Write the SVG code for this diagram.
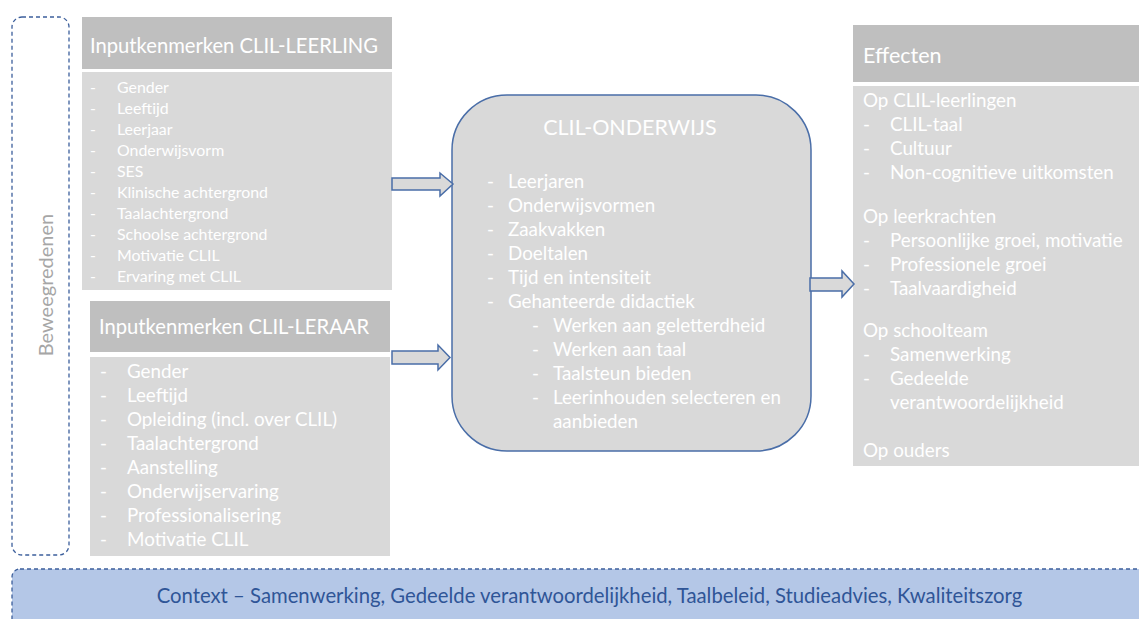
<svg xmlns="http://www.w3.org/2000/svg" width="1139" height="619" viewBox="0 0 1139 619">
  <defs>
    <style>
      text { font-family: Lato, "Open Sans", "Liberation Sans", sans-serif; fill: #ffffff; }
      .hdr { fill: #bfbfbf; }
      .body { fill: #d9d9d9; }
      .h22 { font-size: 20.2px; }
      .h24 { font-size: 21.5px; }
      .t17 { font-size: 15.9px; }
      .t20 { font-size: 18.8px; }
      .dash { fill: none; stroke: #3c5f9c; stroke-width: 1.3; stroke-dasharray: 4 3; }
      .arrow { fill: #d9d9d9; stroke: #4a6ea8; stroke-width: 1.5; stroke-linejoin: miter; }
    </style>
  </defs>
  <rect width="1139" height="619" fill="#ffffff"/>

  <!-- motives frame -->
  <g id="beweegredenen">
    <rect class="dash" x="12" y="17" width="57" height="538" rx="10"/>
    <text transform="translate(53 285) rotate(-90)" text-anchor="middle" style="font-size:20px; fill:#a6a6a6">Beweegredenen</text>
  </g>

  <!-- pupil input -->
  <g id="leerling">
    <rect class="hdr" x="82" y="17" width="310" height="52"/>
    <text class="h22" x="90" y="53">Inputkenmerken CLIL-LEERLING</text>
    <rect class="body" x="82" y="72" width="310" height="218"/>
    <g class="t17">
      <text x="90" y="93">-</text><text x="117" y="93">Gender</text>
      <text x="90" y="114">-</text><text x="117" y="114">Leeftijd</text>
      <text x="90" y="135">-</text><text x="117" y="135">Leerjaar</text>
      <text x="90" y="156">-</text><text x="117" y="156">Onderwijsvorm</text>
      <text x="90" y="177">-</text><text x="117" y="177">SES</text>
      <text x="90" y="198">-</text><text x="117" y="198">Klinische achtergrond</text>
      <text x="90" y="219">-</text><text x="117" y="219">Taalachtergrond</text>
      <text x="90" y="240">-</text><text x="117" y="240">Schoolse achtergrond</text>
      <text x="90" y="261">-</text><text x="117" y="261">Motivatie CLIL</text>
      <text x="90" y="282">-</text><text x="117" y="282">Ervaring met CLIL</text>
    </g>
  </g>

  <!-- teacher input -->
  <g id="leraar">
    <rect class="hdr" x="90" y="301" width="300" height="51"/>
    <text class="h22" x="99" y="334">Inputkenmerken CLIL-LERAAR</text>
    <rect class="body" x="90" y="357" width="300" height="199"/>
    <g class="t20">
      <text x="100" y="378">-</text><text x="127" y="378">Gender</text>
      <text x="100" y="402">-</text><text x="127" y="402">Leeftijd</text>
      <text x="100" y="426">-</text><text x="127" y="426">Opleiding (incl. over CLIL)</text>
      <text x="100" y="450">-</text><text x="127" y="450">Taalachtergrond</text>
      <text x="100" y="474">-</text><text x="127" y="474">Aanstelling</text>
      <text x="100" y="498">-</text><text x="127" y="498">Onderwijservaring</text>
      <text x="100" y="522">-</text><text x="127" y="522">Professionalisering</text>
      <text x="100" y="546">-</text><text x="127" y="546">Motivatie CLIL</text>
    </g>
  </g>

  <!-- CLIL education -->
  <g id="onderwijs">
    <rect x="452" y="95" width="359" height="356" rx="55" fill="#d9d9d9" stroke="#4a6ea8" stroke-width="1.5"/>
    <text class="h24" x="630" y="135" text-anchor="middle">CLIL-ONDERWIJS</text>
    <g class="t20">
      <text x="487" y="188">-</text><text x="508" y="188">Leerjaren</text>
      <text x="487" y="212">-</text><text x="508" y="212">Onderwijsvormen</text>
      <text x="487" y="236">-</text><text x="508" y="236">Zaakvakken</text>
      <text x="487" y="260">-</text><text x="508" y="260">Doeltalen</text>
      <text x="487" y="284">-</text><text x="508" y="284">Tijd en intensiteit</text>
      <text x="487" y="308">-</text><text x="508" y="308">Gehanteerde didactiek</text>
      <text x="532" y="332">-</text><text x="553" y="332">Werken aan geletterdheid</text>
      <text x="532" y="356">-</text><text x="553" y="356">Werken aan taal</text>
      <text x="532" y="380">-</text><text x="553" y="380">Taalsteun bieden</text>
      <text x="532" y="404">-</text><text x="553" y="404">Leerinhouden selecteren en</text>
      <text x="553" y="428">aanbieden</text>
    </g>
  </g>

  <!-- effects -->
  <g id="effecten">
    <rect class="hdr" x="853" y="25" width="290" height="57"/>
    <text class="h24" x="863" y="63">Effecten</text>
    <rect class="body" x="853" y="86" width="290" height="380"/>
    <g class="t20">
      <text x="863" y="107">Op CLIL-leerlingen</text>
      <text x="863" y="131">-</text><text x="890" y="131">CLIL-taal</text>
      <text x="863" y="155">-</text><text x="890" y="155">Cultuur</text>
      <text x="863" y="179">-</text><text x="890" y="179">Non-cognitieve uitkomsten</text>
      <text x="863" y="223">Op leerkrachten</text>
      <text x="863" y="247">-</text><text x="890" y="247">Persoonlijke groei, motivatie</text>
      <text x="863" y="271">-</text><text x="890" y="271">Professionele groei</text>
      <text x="863" y="295">-</text><text x="890" y="295">Taalvaardigheid</text>
      <text x="863" y="337">Op schoolteam</text>
      <text x="863" y="361">-</text><text x="890" y="361">Samenwerking</text>
      <text x="863" y="385">-</text><text x="890" y="385">Gedeelde</text>
      <text x="890" y="409">verantwoordelijkheid</text>
      <text x="863" y="457">Op ouders</text>
    </g>
  </g>

  <!-- context band -->
  <g id="context">
    <rect x="12" y="569" width="1140" height="60" rx="8" fill="#b4c7e7" stroke="#3c5f9c" stroke-width="1.3" stroke-dasharray="4 3"/>
    <text x="589.5" y="603" text-anchor="middle" style="font-size:20.3px; fill:#2f5597">Context – Samenwerking, Gedeelde verantwoordelijkheid, Taalbeleid, Studieadvies, Kwaliteitszorg</text>
  </g>

  <!-- block arrows -->
  <g id="connectors">
    <path class="arrow" d="M392 178 H440 V173 L453 184 L440 196 V190 H392 Z"/>
    <path class="arrow" d="M392 351 H438 V345 L450 357.5 L438 370 V364 H392 Z"/>
    <path class="arrow" d="M810 278 H842 V271 L854 284 L842 297 V291 H810 Z"/>
  </g>
</svg>
